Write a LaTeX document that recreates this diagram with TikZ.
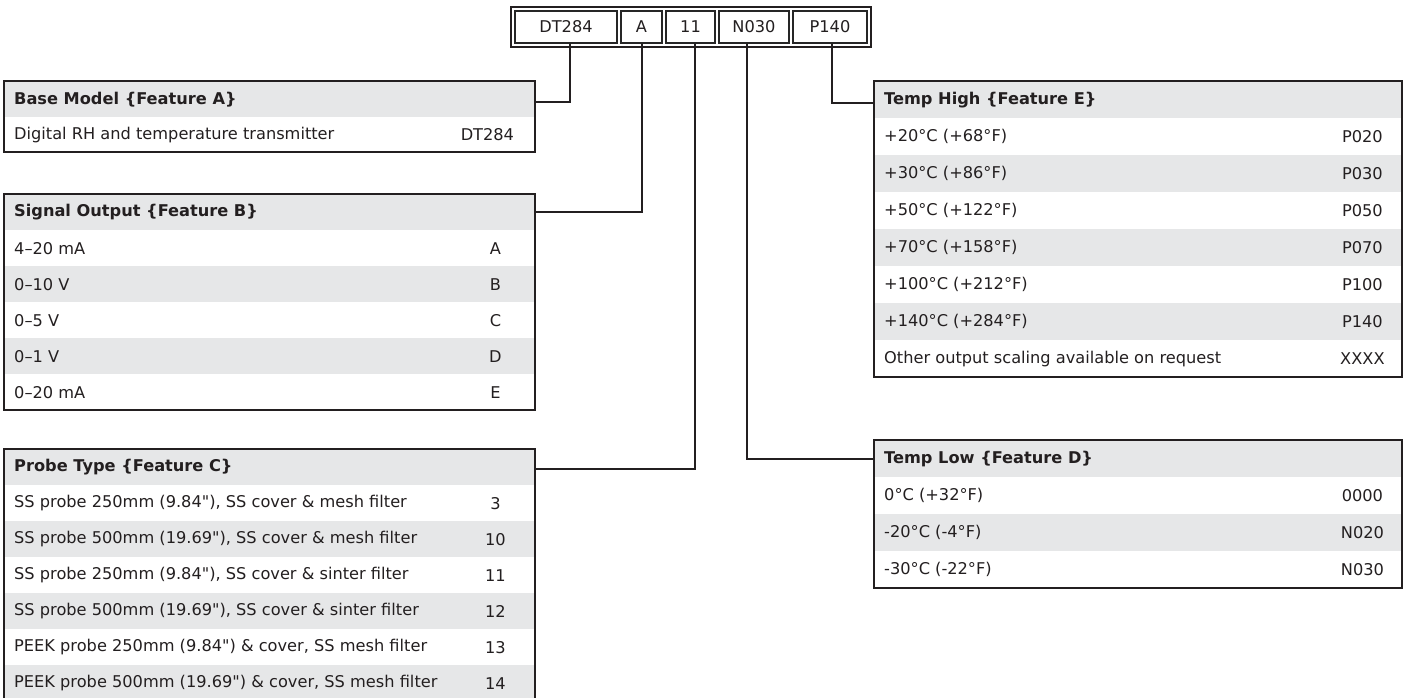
\documentclass[tikz,border=0pt]{standalone}
\usepackage{fontspec}
\setmainfont{DejaVu Sans}
\newfontfamily\plainfont{DejaVu Sans}
\newcommand\qd{{\plainfont\char"22\relax}}
\begin{document}
\begin{tikzpicture}[x=1pt,y=-1pt,
  topbox/.style={draw=black!85,line width=1.1pt,minimum height=32pt,inner sep=0pt,font=\fontsize{16.2}{19}\selectfont,text=tx},
  rowbox/.style={anchor=north west,inner sep=0pt,draw=none},
  lbl/.style={anchor=west,inner sep=0pt,font=\fontsize{16.2}{19}\selectfont,text=tx},
  hlbl/.style={anchor=west,inner sep=0pt,font=\fontsize{16.2}{19}\selectfont\bfseries,text=tx},
  code/.style={inner sep=0pt,font=\fontsize{16.2}{19}\selectfont,text=tx},
  tblborder/.style={draw=tx,line width=2pt},
  conn/.style={draw=tx,line width=2pt}]
\definecolor{hg}{HTML}{E6E7E8}
\definecolor{tx}{HTML}{231F20}
\useasboundingbox (0,0) rectangle (1408,697);
\clip (0,0) rectangle (1408,697);
\fill[white] (0,0) rectangle (1408,697);

% #1 name, #2 x, #3 y, #4 width, #5 height, #6 fill, #7 label, #8 code
\newcommand\trow[8]{%
  \node[rowbox,fill=#6,minimum width=#4 pt,minimum height=#5 pt] (#1) at (#2,#3) {};
  \node[lbl] at ([xshift=10pt]#1.west) {#7};
  \node[code] at ([xshift=-40pt]#1.east) {#8};
}
\newcommand\thead[6]{%
  \node[rowbox,fill=hg,minimum width=#4 pt,minimum height=#5 pt] (#1) at (#2,#3) {};
  \node[hlbl] at ([xshift=10pt]#1.west) {#6};
}

% top code bar
\draw[draw=tx,line width=1.1pt] (511,7) rectangle (871,47);
\node[topbox,minimum width=102pt] (dt) at (566,27) {DT284};
\node[topbox,minimum width=41pt] (ca) at (641.5,27) {A};
\node[topbox,minimum width=49pt] (cc) at (690.5,27) {11};
\node[topbox,minimum width=70pt] (cd) at (754,27) {N030};
\node[topbox,minimum width=74pt] (ce) at (830,27) {P140};

% Base Model
\thead{bmh}{4}{81}{531}{36}{Base Model \{Feature A\}}
\trow{bm1}{4}{117}{531}{35}{white}{Digital RH and temperature transmitter}{\hspace*{-16pt}DT284}
\draw[tblborder] (bmh.north west) rectangle (bm1.south east);

% Signal Output
\thead{soh}{4}{194}{531}{36}{Signal Output \{Feature B\}}
\trow{so1}{4}{230}{531}{36}{white}{4–20 mA}{A}
\trow{so2}{4}{266}{531}{36}{hg}{0–10 V}{B}
\trow{so3}{4}{302}{531}{36}{white}{0–5 V}{C}
\trow{so4}{4}{338}{531}{36}{hg}{0–1 V}{D}
\trow{so5}{4}{374}{531}{36}{white}{0–20 mA}{E}
\draw[tblborder] (soh.north west) rectangle (so5.south east);

% Probe Type
\thead{pth}{4}{449}{531}{36}{Probe Type \{Feature C\}}
\trow{pt1}{4}{485}{531}{36}{white}{SS probe 250mm (9.84\qd), SS cover \& mesh filter}{3}
\trow{pt2}{4}{521}{531}{36}{hg}{SS probe 500mm (19.69\qd), SS cover \& mesh filter}{10}
\trow{pt3}{4}{557}{531}{36}{white}{SS probe 250mm (9.84\qd), SS cover \& sinter filter}{11}
\trow{pt4}{4}{593}{531}{36}{hg}{SS probe 500mm (19.69\qd), SS cover \& sinter filter}{12}
\trow{pt5}{4}{629}{531}{36}{white}{PEEK probe 250mm (9.84\qd) \& cover, SS mesh filter}{13}
\trow{pt6}{4}{665}{531}{36}{hg}{PEEK probe 500mm (19.69\qd) \& cover, SS mesh filter}{14}
\draw[tblborder] (pth.north west) rectangle (pt6.south east);

% Temp High
\thead{thh}{874}{81}{528}{37}{Temp High \{Feature E\}}
\trow{th1}{874}{118}{528}{37}{white}{+20°C (+68°F)}{P020}
\trow{th2}{874}{155}{528}{37}{hg}{+30°C (+86°F)}{P030}
\trow{th3}{874}{192}{528}{37}{white}{+50°C (+122°F)}{P050}
\trow{th4}{874}{229}{528}{37}{hg}{+70°C (+158°F)}{P070}
\trow{th5}{874}{266}{528}{37}{white}{+100°C (+212°F)}{P100}
\trow{th6}{874}{303}{528}{37}{hg}{+140°C (+284°F)}{P140}
\trow{th7}{874}{340}{528}{37}{white}{Other output scaling available on request}{XXXX}
\draw[tblborder] (thh.north west) rectangle (th7.south east);

% Temp Low
\thead{tlh}{874}{440}{528}{37}{Temp Low \{Feature D\}}
\trow{tl1}{874}{477}{528}{37}{white}{0°C (+32°F)}{0000}
\trow{tl2}{874}{514}{528}{37}{hg}{-20°C (-4°F)}{N020}
\trow{tl3}{874}{551}{528}{37}{white}{-30°C (-22°F)}{N030}
\draw[tblborder] (tlh.north west) rectangle (tl3.south east);

% connectors
\draw[conn] ([xshift=4pt]dt.south) |- ([yshift=-3pt]bmh.east);
\draw[conn] (ca.south) |- (soh.east);
\draw[conn] ([xshift=4.5pt]cc.south) |- ([yshift=-2pt]pth.east);
\draw[conn] ([xshift=-7pt]cd.south) |- (tlh.west);
\draw[conn] ([xshift=2pt]ce.south) |- ([yshift=-3pt]thh.west);
\end{tikzpicture}
\end{document}
